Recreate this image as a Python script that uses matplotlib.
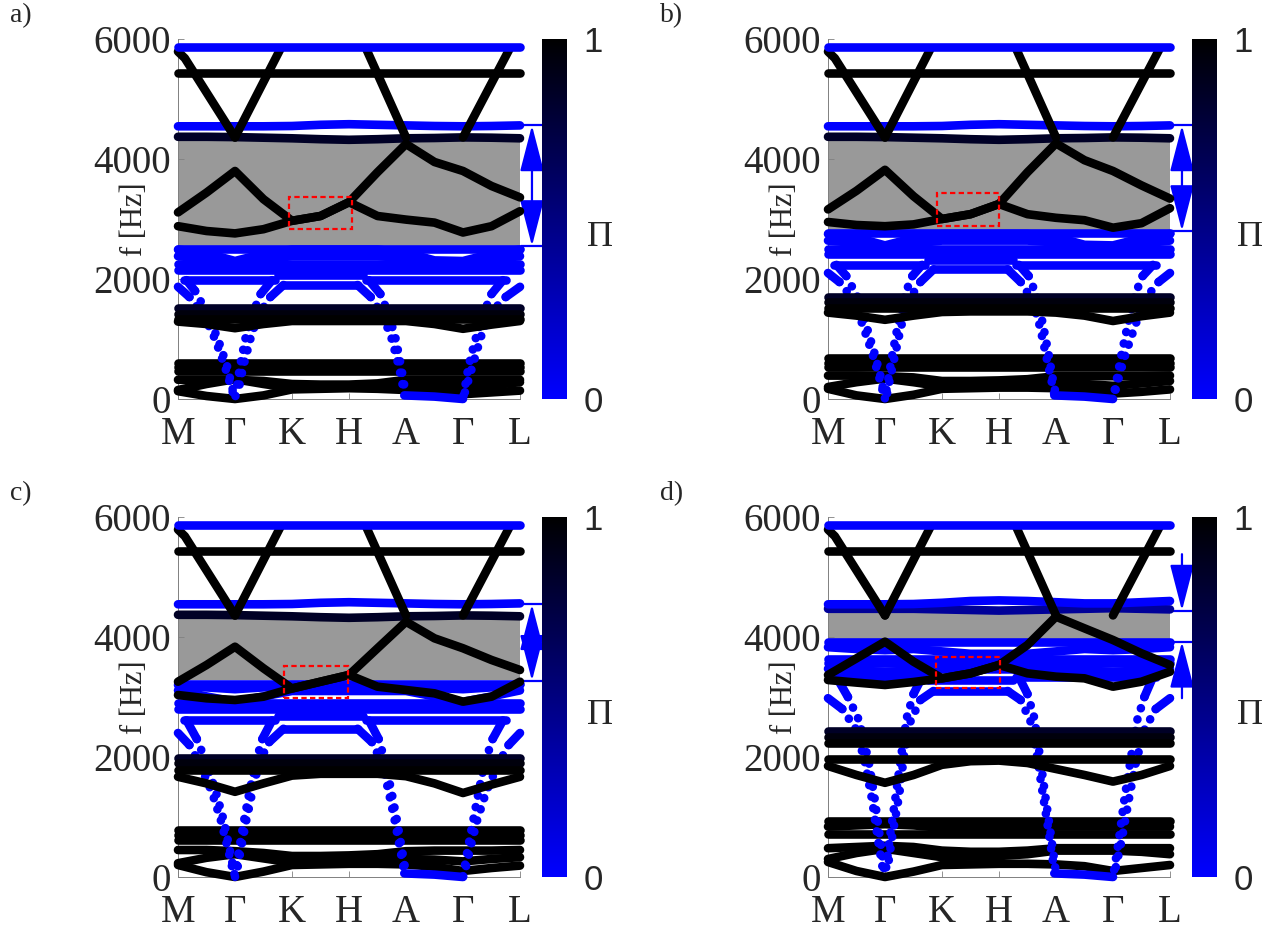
import matplotlib
matplotlib.use("Agg")
import matplotlib.pyplot as plt
from matplotlib.colors import LinearSegmentedColormap, Normalize
from matplotlib.cm import ScalarMappable
from matplotlib.patches import Rectangle
from matplotlib.transforms import blended_transform_factory

plt.rcParams['font.family'] = 'serif'
plt.rcParams['font.serif'] = ['Liberation Serif', 'DejaVu Serif']

# k-path: high-symmetry points and the half-way points of every segment
PATH_X = [0, 0.5, 1, 1.5, 2, 2.5, 3, 3.5, 4, 4.5, 5, 5.5, 6]
TICK_LABELS = ["M", "Γ", "K", "H", "A", "Γ", "L"]
Y_TICKS = [0, 2000, 4000, 6000]

# ---- bands shared by the four unit cells (above the gap) ----
# flat bands: (x start, x end, f [Hz], Π)
COMMON_FLAT = [(0, 6, 5440, 1.0), (0, 6, 5860, 0.0)]
# folded branches running into the top bands
FOLD_ARMS = [
    ([0.0, 0.12, 1.0], [5790, 5680, 4360]),
    ([1.0, 1.8], [4360, 5840]),
    ([3.3, 4.0], [5840, 4360]),
    ([5.0, 5.82], [4360, 5840]),
]
BAND_4350 = [4370, 4370, 4365, 4355, 4345, 4330, 4320, 4330, 4345, 4350, 4360, 4355, 4345]
BAND_4540 = [4545, 4545, 4545, 4545, 4550, 4570, 4580, 4570, 4560, 4550, 4545, 4550, 4560]
BAND_4540_D = [4545, 4545, 4545, 4550, 4570, 4600, 4610, 4600, 4580, 4560, 4560, 4580, 4600]
BAND_4470_D = [4470, 4470, 4470, 4470, 4460, 4450, 4440, 4450, 4460, 4470, 4480, 4470, 4460]
# acoustic branch along A-Γ
FLOOR_X = [3.97, 4.5, 5.0]
FLOOR_F = [60, 40, 0]

# ---- a) ----
A_GAP = (2550, 4320)
A_ARROW = (2550, 4560)
A_BOX = (1.95, 3.06, 2840, 3370)
A_GAP_CURVES = [
    [3110, 3440, 3800, 3330, 2970, 3050, 3280, 3780, 4250, 3950, 3800, 3550, 3360],
    [2880, 2800, 2760, 2830, 2970, 3050, 3280, 3050, 2990, 2940, 2775, 2880, 3130],
]
A_BLUE_FLAT = [(0, 6, 2500), (0, 6, 2250), (0, 6, 2150), (0.1, 1.7, 1980),
               (1.75, 3.25, 2060), (1.85, 3.15, 1900), (3.3, 5.75, 1980)]
A_BLUE_CURVES = [
    [2490, 2430, 2300, 2420, 2490, 2490, 2490, 2490, 2440, 2310, 2300, 2420, 2490],
    [2380, 2340, 2220, 2330, 2380, 2380, 2380, 2380, 2350, 2230, 2220, 2330, 2380],
]
A_ARMS = [
    ([0.0, 0.2, 0.45, 0.65, 0.82, 0.97], [1870, 1700, 1400, 1000, 550, 80]),
    ([0.15, 0.3, 0.5, 0.7, 0.86, 1.0], [1980, 1800, 1450, 1000, 550, 0]),
    ([1.85, 1.62, 1.4, 1.27, 1.15, 1.05], [1900, 1700, 1380, 1000, 560, 100]),
    ([1.65, 1.45, 1.3, 1.18, 1.09, 1.0], [1980, 1750, 1400, 1000, 560, 0]),
    ([3.15, 3.38, 3.6, 3.75, 3.87, 3.97], [1900, 1700, 1380, 1000, 560, 100]),
    ([3.35, 3.55, 3.7, 3.82, 3.91, 4.0], [1980, 1750, 1400, 1000, 560, 60]),
    ([6.0, 5.75, 5.5, 5.32, 5.17, 5.03], [1870, 1700, 1450, 1050, 560, 100]),
    ([5.7, 5.5, 5.35, 5.22, 5.1, 5.0], [1980, 1750, 1400, 1000, 560, 0]),
]
A_MID_FLAT = [(0, 6, 1510, 0.85), (0, 6, 1420, 0.95), (0, 6, 1330, 1.0)]
A_MID_CURVES = [[1290, 1250, 1180, 1250, 1300, 1300, 1300, 1300, 1300, 1250, 1170, 1240, 1300]]
A_LOW_FLAT = [(0, 6, 600, 1.0), (0, 6, 530, 1.0), (0, 6, 465, 1.0)]
A_LOW_CURVES = [
    [320, 320, 320, 300, 250, 240, 240, 260, 320, 320, 320, 320, 320],
    [150, 250, 330, 250, 180, 190, 200, 210, 200, 200, 180, 230, 280],
    [130, 50, 0, 60, 160, 170, 180, 170, 150, 130, 80, 110, 140],
]

# ---- b) ----
B_GAP = (2800, 4320)
B_ARROW = (2800, 4560)
B_BOX = (1.91, 3.0, 2890, 3440)
B_GAP_CURVES = [
    [3160, 3470, 3820, 3380, 3000, 3080, 3250, 3780, 4260, 3980, 3800, 3560, 3340],
    [2950, 2900, 2880, 2910, 3000, 3080, 3250, 3080, 3020, 2980, 2855, 2930, 3180],
]
B_BLUE_FLAT = [(0, 6, 2760), (0, 6, 2500), (0, 6, 2410), (0.1, 1.7, 2235),
               (1.75, 3.25, 2320), (1.85, 3.15, 2160), (3.3, 5.75, 2235)]
B_BLUE_CURVES = [
    [2750, 2690, 2560, 2680, 2750, 2750, 2750, 2750, 2700, 2570, 2560, 2680, 2750],
    [2640, 2600, 2480, 2590, 2640, 2640, 2640, 2640, 2610, 2490, 2480, 2590, 2640],
]
B_ARMS = [
    ([0.0, 0.2, 0.45, 0.62, 0.78, 0.9, 0.98], [2100, 1950, 1650, 1200, 750, 350, 60]),
    ([0.15, 0.32, 0.52, 0.68, 0.82, 0.93, 1.0], [2235, 2050, 1700, 1200, 750, 350, 0]),
    ([1.85, 1.62, 1.42, 1.28, 1.18, 1.09, 1.03], [2160, 1950, 1650, 1200, 750, 350, 60]),
    ([1.65, 1.48, 1.33, 1.22, 1.13, 1.06, 1.0], [2235, 2050, 1700, 1200, 750, 350, 0]),
    ([3.15, 3.38, 3.58, 3.72, 3.82, 3.91, 3.97], [2160, 1950, 1650, 1200, 750, 350, 80]),
    ([3.35, 3.52, 3.67, 3.78, 3.87, 3.94, 4.0], [2235, 2050, 1700, 1200, 750, 350, 60]),
    ([6.0, 5.8, 5.55, 5.38, 5.22, 5.1, 5.02], [2100, 1950, 1650, 1200, 750, 350, 60]),
    ([5.7, 5.52, 5.37, 5.25, 5.15, 5.07, 5.0], [2235, 2050, 1700, 1200, 750, 350, 0]),
]
B_MID_FLAT = [(0, 6, 1700, 0.85), (0, 6, 1610, 0.95), (0, 6, 1520, 1.0)]
B_MID_CURVES = [[1440, 1390, 1320, 1390, 1450, 1460, 1460, 1460, 1440, 1390, 1300, 1380, 1440]]
B_LOW_FLAT = [(0, 6, 680, 1.0), (0, 6, 600, 1.0), (0, 6, 530, 1.0)]
B_LOW_CURVES = [
    [390, 390, 380, 360, 300, 300, 310, 330, 380, 380, 380, 380, 390],
    [200, 280, 340, 280, 210, 220, 230, 250, 260, 250, 220, 260, 300],
    [170, 60, 0, 70, 170, 180, 190, 190, 180, 150, 90, 120, 160],
]

# ---- c) ----
C_GAP = (3280, 4340)
C_ARROW = (3270, 4545)
C_BOX = (1.86, 2.98, 2980, 3520)
C_GAP_CURVES = [
    [3255, 3533, 3838, 3478, 3142, 3255, 3367, 3812, 4255, 3978, 3812, 3617, 3450],
    [3033, 2978, 2950, 3005, 3142, 3255, 3367, 3172, 3117, 3061, 2922, 3005, 3255],
]
C_BLUE_FLAT = [(0, 6, 3220), (0, 6, 2900), (0, 6, 2800), (0.1, 1.7, 2610),
               (1.75, 3.25, 2690), (1.85, 3.15, 2470), (3.3, 5.75, 2610)]
C_BLUE_CURVES = [
    [3200, 3160, 3130, 3160, 3200, 3200, 3200, 3200, 3190, 3150, 3130, 3160, 3200],
    [3110, 3010, 2920, 3010, 3100, 3100, 3100, 3100, 3100, 3010, 2920, 3010, 3110],
]
C_ARMS = [
    ([0.0, 0.2, 0.4, 0.6, 0.75, 0.88, 0.97], [2400, 2200, 1850, 1400, 950, 450, 80]),
    ([0.15, 0.33, 0.5, 0.67, 0.8, 0.91, 1.0], [2610, 2300, 1900, 1400, 950, 450, 0]),
    ([1.85, 1.6, 1.42, 1.3, 1.2, 1.1, 1.03], [2470, 2250, 1900, 1400, 950, 450, 80]),
    ([1.65, 1.48, 1.36, 1.25, 1.16, 1.07, 1.0], [2610, 2300, 1900, 1400, 950, 450, 0]),
    ([3.15, 3.4, 3.58, 3.7, 3.8, 3.9, 3.97], [2470, 2250, 1900, 1400, 950, 450, 80]),
    ([3.35, 3.52, 3.64, 3.75, 3.84, 3.93, 4.0], [2610, 2300, 1900, 1400, 950, 450, 60]),
    ([6.0, 5.8, 5.6, 5.4, 5.25, 5.12, 5.03], [2400, 2200, 1850, 1400, 950, 450, 80]),
    ([5.7, 5.52, 5.38, 5.27, 5.18, 5.08, 5.0], [2610, 2300, 1900, 1400, 950, 450, 0]),
]
C_MID_FLAT = [(0, 6, 1990, 0.85), (0, 6, 1900, 0.95), (0, 6, 1790, 1.0)]
C_MID_CURVES = [[1670, 1560, 1420, 1560, 1690, 1720, 1720, 1720, 1680, 1560, 1400, 1540, 1670]]
C_LOW_FLAT = [(0, 6, 780, 1.0), (0, 6, 700, 1.0), (0, 6, 620, 1.0)]
C_LOW_CURVES = [
    [450, 450, 430, 400, 350, 350, 360, 380, 430, 440, 440, 440, 450],
    [230, 320, 380, 310, 240, 250, 260, 280, 300, 290, 260, 300, 330],
    [200, 80, 0, 90, 200, 210, 220, 220, 210, 170, 100, 150, 190],
]

# ---- d) ----
D_GAP = (3960, 4430)
D_ARROW_TOP = (5380, 4440)
D_ARROW_BOTTOM = (2980, 3920)
D_BOX = (1.89, 3.02, 3155, 3672)
D_GAP_CURVES = [
    [3367, 3644, 3922, 3589, 3311, 3394, 3533, 3867, 4339, 4144, 3950, 3728, 3533],
    [3283, 3240, 3200, 3250, 3311, 3394, 3533, 3394, 3339, 3311, 3172, 3255, 3422],
]
D_BLUE_FLAT = [(0, 6, 3910), (0, 6, 3640), (0, 6, 3560), (0.1, 1.7, 3330),
               (1.75, 3.25, 3290), (1.85, 3.15, 3100), (3.3, 5.75, 3330)]
D_BLUE_CURVES = [
    [3830, 3800, 3780, 3800, 3760, 3720, 3720, 3720, 3760, 3800, 3780, 3800, 3830],
    [3470, 3440, 3420, 3440, 3460, 3460, 3460, 3460, 3460, 3440, 3420, 3440, 3470],
]
D_ARMS = [
    ([0.0, 0.25, 0.5, 0.65, 0.77, 0.88, 0.97], [2980, 2800, 2450, 1900, 1300, 600, 80]),
    ([0.15, 0.35, 0.55, 0.72, 0.82, 0.92, 1.0], [3330, 3000, 2600, 1900, 1300, 600, 0]),
    ([1.85, 1.62, 1.45, 1.33, 1.25, 1.13, 1.04], [3100, 2950, 2600, 2000, 1370, 700, 100]),
    ([1.65, 1.5, 1.38, 1.28, 1.19, 1.09, 1.0], [3330, 3050, 2650, 2000, 1370, 700, 0]),
    ([3.15, 3.38, 3.55, 3.67, 3.77, 3.88, 3.97], [3100, 2950, 2600, 2000, 1370, 700, 100]),
    ([3.35, 3.5, 3.62, 3.72, 3.81, 3.91, 4.0], [3330, 3050, 2650, 2000, 1370, 700, 60]),
    ([6.0, 5.75, 5.55, 5.4, 5.28, 5.15, 5.03], [2980, 2800, 2450, 1900, 1300, 600, 80]),
    ([5.7, 5.55, 5.42, 5.3, 5.2, 5.1, 5.0], [3330, 3000, 2600, 1900, 1300, 600, 0]),
]
D_MID_FLAT = [(0, 6, 2430, 0.85), (0, 6, 2330, 0.95), (0, 6, 2230, 1.0), (0, 6, 1970, 1.0)]
D_MID_CURVES = [[1850, 1700, 1570, 1700, 1870, 1930, 1940, 1900, 1800, 1700, 1590, 1700, 1850]]
D_LOW_FLAT = [(0, 6, 940, 1.0), (0, 6, 720, 1.0)]
D_LOW_CURVES = [
    [840, 860, 880, 860, 820, 800, 800, 820, 840, 840, 840, 840, 840],
    [480, 500, 520, 500, 440, 420, 420, 440, 480, 480, 480, 480, 480],
    [300, 400, 470, 400, 330, 340, 350, 380, 440, 440, 440, 420, 380],
    [250, 100, 0, 90, 200, 210, 220, 220, 210, 180, 100, 150, 200],
]

PI_CMAP = LinearSegmentedColormap.from_list("pi_map", ["#0000ff", "#000000"])
BLUE = "#0000ff"
GRAY = "#999999"
TEXT = "#262626"
LW = 6.2
W, H = 1275, 930


def band(ax, x, f, pi, dotted=False, z=3):
    kw = dict(color=PI_CMAP(pi), lw=LW, clip_on=False, zorder=z,
              solid_capstyle="round", solid_joinstyle="round")
    if dotted:
        kw.update(linestyle=(0, (0.01, 1.35)), dash_capstyle="round")
    ax.plot(x, f, **kw)


def flat(ax, items, pi=None, z=3):
    for it in items:
        p = it[3] if pi is None else pi
        band(ax, [it[0], it[1]], [it[2], it[2]], p, z=z)


def draw_panel(ax, gap, low_flat, low_curves, arms, mid_flat, mid_curves,
               blue_flat, blue_curves, gap_curves, box, band_4350, band_4540, pi_4350):
    ax.axhspan(gap[0], gap[1], color=GRAY, zorder=1, lw=0)

    flat(ax, low_flat)
    for f in low_curves:
        band(ax, PATH_X, f, 1.0)
    for x, f in arms:
        # near the bundle the sampled points overlap into a solid curve
        band(ax, x[:2], f[:2], 0.0)
        band(ax, x[1:], f[1:], 0.0, dotted=True)
    band(ax, FLOOR_X, FLOOR_F, 0.0)
    flat(ax, mid_flat)
    for f in mid_curves:
        band(ax, PATH_X, f, 1.0)
    flat(ax, blue_flat, pi=0.0)
    for f in blue_curves:
        band(ax, PATH_X, f, 0.0)
    for f in gap_curves:
        band(ax, PATH_X, f, 1.0, z=4)

    band(ax, PATH_X, band_4350, pi_4350)
    band(ax, PATH_X, band_4540, 0.0)
    for x, f in FOLD_ARMS:
        band(ax, x, f, 1.0)
    flat(ax, COMMON_FLAT)

    x0, x1, f0, f1 = box
    ax.add_patch(Rectangle((x0, f0), x1 - x0, f1 - f0, fill=False, edgecolor="#ff0000",
                           lw=1.6, linestyle=(0, (2.4, 1.5)), zorder=6))

    ax.set_xlim(0, 6)
    ax.set_ylim(0, 6000)
    ax.set_xticks(range(7))
    ax.set_xticklabels(TICK_LABELS)
    ax.set_yticks(Y_TICKS)
    ax.tick_params(labelsize=28, direction="in", length=4, width=0.6,
                   colors="#808080", labelcolor=TEXT)
    ax.tick_params(axis="x", pad=12)
    ax.tick_params(axis="y", pad=5)
    for s in ("top", "right"):
        ax.spines[s].set_visible(False)
    for s in ("left", "bottom"):
        ax.spines[s].set_color("#808080")
        ax.spines[s].set_linewidth(0.7)
    ax.set_ylabel("f [Hz]", fontsize=22, color=TEXT)
    ax.yaxis.set_label_coords(-0.085, 0.5)


def tick_line(ax, f):
    tr = blended_transform_factory(ax.transAxes, ax.transData)
    ax.plot([1.005, 1.065], [f, f], color=BLUE, lw=1.6, transform=tr, clip_on=False)


def arrow(ax, f_from, f_to, style):
    tr = blended_transform_factory(ax.transAxes, ax.transData)
    ax.annotate("", xy=(1.035, f_to), xytext=(1.035, f_from), xycoords=tr, textcoords=tr,
                annotation_clip=False,
                arrowprops=dict(arrowstyle=style + ",head_length=2.9,head_width=0.75",
                                mutation_scale=10, color=BLUE, lw=1.6,
                                shrinkA=0, shrinkB=0))


def colorbar(fig, left, top):
    cax = fig.add_axes([left / W, 1 - (top + 360) / H, 25 / W, 360 / H])
    cb = fig.colorbar(ScalarMappable(Normalize(0, 1), PI_CMAP), cax=cax, ticks=[0, 1])
    cb.outline.set_visible(False)
    cax.tick_params(length=0, pad=12, labelsize=25)
    for t in cax.get_yticklabels():
        t.set_fontfamily(["Liberation Sans", "DejaVu Sans"])
        t.set_color(TEXT)
    cax.text(2.3, 0.45, "Π", transform=cax.transAxes, fontsize=26,
             ha="center", va="center", color=TEXT)


fig = plt.figure(figsize=(W / 100, H / 100), dpi=100)

panels = {
    "a": (178, 39, A_GAP, A_LOW_FLAT, A_LOW_CURVES, A_ARMS, A_MID_FLAT, A_MID_CURVES,
          A_BLUE_FLAT, A_BLUE_CURVES, A_GAP_CURVES, A_BOX, BAND_4350, BAND_4540, 0.85),
    "b": (828, 39, B_GAP, B_LOW_FLAT, B_LOW_CURVES, B_ARMS, B_MID_FLAT, B_MID_CURVES,
          B_BLUE_FLAT, B_BLUE_CURVES, B_GAP_CURVES, B_BOX, BAND_4350, BAND_4540, 0.85),
    "c": (178, 517, C_GAP, C_LOW_FLAT, C_LOW_CURVES, C_ARMS, C_MID_FLAT, C_MID_CURVES,
          C_BLUE_FLAT, C_BLUE_CURVES, C_GAP_CURVES, C_BOX, BAND_4350, BAND_4540, 0.85),
    "d": (828, 517, D_GAP, D_LOW_FLAT, D_LOW_CURVES, D_ARMS, D_MID_FLAT, D_MID_CURVES,
          D_BLUE_FLAT, D_BLUE_CURVES, D_GAP_CURVES, D_BOX, BAND_4470_D, BAND_4540_D, 0.4),
}

axes = {}
for name, (left, top, *data) in panels.items():
    ax = fig.add_axes([left / W, 1 - (top + 360) / H, 342 / W, 360 / H])
    draw_panel(ax, *data)
    colorbar(fig, left + 364, top)
    axes[name] = ax
    fig.text((left - 168) / W, 1 - (top - 36) / H, name + ")", fontsize=20,
             ha="left", va="top", color=TEXT)

for name, (lo, hi) in (("a", A_ARROW), ("b", B_ARROW), ("c", C_ARROW)):
    tick_line(axes[name], lo)
    tick_line(axes[name], hi)
    arrow(axes[name], lo, hi, "<|-|>")

tick_line(axes["d"], D_ARROW_TOP[1])
tick_line(axes["d"], D_ARROW_BOTTOM[1])
arrow(axes["d"], *D_ARROW_TOP, "-|>")
arrow(axes["d"], *D_ARROW_BOTTOM, "-|>")

fig.savefig("out.png", dpi=100)
